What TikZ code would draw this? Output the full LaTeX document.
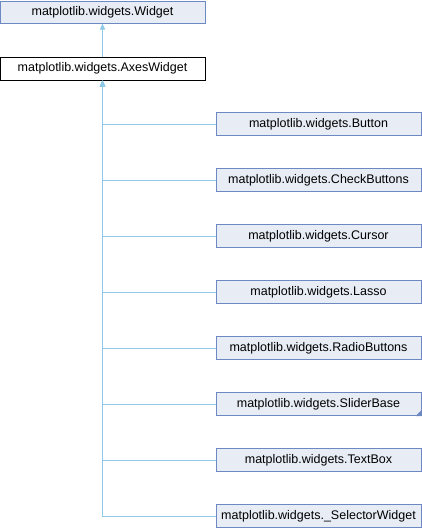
\documentclass[tikz,border=0pt]{standalone}
\usepackage{fontspec}
\setmainfont{Liberation Sans}
\usetikzlibrary{arrows.meta}

\definecolor{boxfill}{RGB}{232,236,245}
\definecolor{boxline}{RGB}{108,137,196}
\definecolor{edgeline}{RGB}{143,201,232}

\tikzset{every picture/.style={line width=1pt}}
\tikzset{
  classbox/.style={draw=boxline,fill=boxfill,minimum width=205,minimum height=23,inner sep=0pt,
    font=\fontsize{12.5}{14}\selectfont},
  mainbox/.style={classbox,draw=black,fill=white},
  inherit/.style={draw=edgeline,-{Triangle[width=5pt,length=6pt]}},
}

\begin{document}
\begin{tikzpicture}[x=1pt,y=1pt,yscale=-1,xscale=1]

\useasboundingbox (0,0) rectangle (422,528);

\node [classbox, minimum height=22] (widget) at (102.5,12) {matplotlib.widgets.Widget};
\node [mainbox] (axeswidget) at (102.5,68.5) {matplotlib.widgets.AxesWidget};

\node [classbox] (button) at (318.5,124) {matplotlib.widgets.Button};
\node [classbox] (checkbuttons) at (318.5,180) {matplotlib.widgets.CheckButtons};
\node [classbox] (cursor) at (318.5,236) {matplotlib.widgets.Cursor};
\node [classbox] (lasso) at (318.5,292) {matplotlib.widgets.Lasso};
\node [classbox] (radiobuttons) at (318.5,348) {matplotlib.widgets.RadioButtons};
\node [classbox] (sliderbase) at (318.5,404) {matplotlib.widgets.SliderBase};
\node [classbox] (textbox) at (318.5,460) {matplotlib.widgets.TextBox};
\node [classbox] (selectorwidget) at (318.5,516) {matplotlib.widgets.\_SelectorWidget};

% marker for a class with more children
\fill [boxline] (sliderbase.south east) -- ++(0,-6) -- ++(-6,6) -- cycle;

\draw [inherit] (axeswidget.north) -- (widget.south);

\draw [inherit] (button.west) -| (axeswidget.south);
\draw [inherit] (checkbuttons.west) -| (axeswidget.south);
\draw [inherit] (cursor.west) -| (axeswidget.south);
\draw [inherit] (lasso.west) -| (axeswidget.south);
\draw [inherit] (radiobuttons.west) -| (axeswidget.south);
\draw [inherit] (sliderbase.west) -| (axeswidget.south);
\draw [inherit] (textbox.west) -| (axeswidget.south);
\draw [inherit] (selectorwidget.west) -| (axeswidget.south);

\end{tikzpicture}
\end{document}
